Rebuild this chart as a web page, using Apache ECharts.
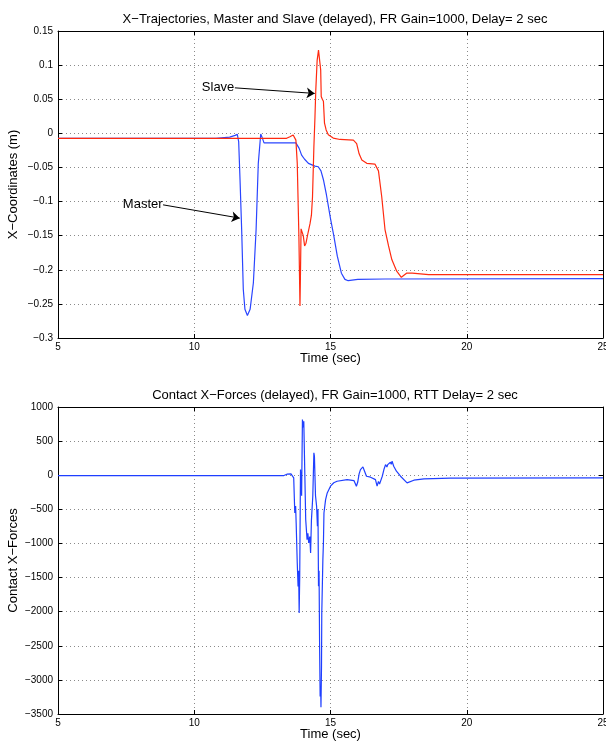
<!DOCTYPE html>
<html>
<head>
<meta charset="utf-8">
<script src="https://cdn.jsdelivr.net/npm/echarts@6/dist/echarts.min.js"></script>
<style>
html,body{margin:0;padding:0;background:#fff;}
#chart{width:606px;height:748px;}
</style>
</head>
<body>
<div id="chart"></div>
<script>
// ---------- Data ----------
const masterT = [5, 10.8, 11.3, 11.5, 11.58, 11.63, 11.68, 11.74, 11.80, 11.86, 11.95, 12.05, 12.17, 12.27, 12.35, 12.44, 12.50, 12.56, 13.73, 13.85, 13.94, 14.05, 14.19, 14.43, 14.55, 14.65, 14.74, 14.85, 15.0, 15.12, 15.25, 15.4, 15.53, 15.65, 16.0, 17.0, 25];
const masterX = [-0.0073, -0.0073, -0.0055, -0.003, -0.0015, -0.012, -0.068, -0.141, -0.229, -0.258, -0.267, -0.258, -0.219, -0.141, -0.044, -0.001, -0.007, -0.014, -0.014, -0.022, -0.032, -0.038, -0.044, -0.048, -0.049, -0.055, -0.068, -0.09, -0.125, -0.15, -0.18, -0.205, -0.214, -0.216, -0.214, -0.2135, -0.213];

const slaveT = [5, 13.39, 13.51, 13.63, 13.68, 13.73, 13.78, 13.84, 13.88, 13.90, 13.92, 13.97, 14.0, 14.05, 14.10, 14.18, 14.25, 14.30, 14.34, 14.39, 14.43, 14.46, 14.51, 14.56, 14.61, 14.64, 14.66, 14.70, 14.74, 14.78, 14.84, 14.92, 15.1, 15.35, 15.84, 15.96, 16.05, 16.15, 16.33, 16.63, 16.76, 16.88, 17.0, 17.13, 17.25, 17.43, 17.6, 17.79, 18.0, 18.6, 25];
const slaveX = [-0.0073, -0.0073, -0.005, -0.0025, -0.003, -0.01, -0.044, -0.15, -0.253, -0.2, -0.14, -0.141, -0.15, -0.165, -0.161, -0.145, -0.132, -0.12, -0.093, -0.02, 0.024, 0.063, 0.107, 0.122, 0.123, 0.093, 0.054, 0.05, 0.047, 0.015, 0.005, -0.002, -0.007, -0.009, -0.01, -0.015, -0.03, -0.039, -0.044, -0.045, -0.055, -0.093, -0.141, -0.165, -0.185, -0.202, -0.211, -0.205, -0.205, -0.207, -0.207];

const forceT = [5, 13.29, 13.4, 13.47, 13.55, 13.6, 13.65, 13.69, 13.72, 13.74, 13.78, 13.81, 13.83, 13.85, 13.87, 13.89, 13.90, 13.92, 13.94, 13.97, 14.0, 14.02, 14.06, 14.09, 14.14, 14.17, 14.20, 14.24, 14.27, 14.30, 14.35, 14.39, 14.41, 14.45, 14.49, 14.52, 14.54, 14.56, 14.58, 14.60, 14.62, 14.64, 14.65, 14.67, 14.68, 14.72, 14.74, 14.76, 14.82, 14.88, 15.0, 15.12, 15.24, 15.61, 15.86, 15.95, 16.0, 16.05, 16.10, 16.19, 16.25, 16.32, 16.47, 16.65, 16.71, 16.76, 16.8, 16.83, 16.9, 16.96, 17.02, 17.07, 17.1, 17.15, 17.2, 17.23, 17.26, 17.32, 17.42, 17.57, 17.81, 18.06, 18.43, 19.4, 25];
const forceF = [-5, -5, 15, 34, 20, -5, -39, -553, -450, -700, -1286, -1630, -1400, -2020, -1500, -400, 83, -100, -300, 817, 700, 792, -30, -650, -944, -850, -993, -900, -1140, -660, -308, 328, 280, -300, -455, -748, -500, -1628, -1400, -2509, -3243, -3100, -3400, -2800, -2020, -1237, -1000, -553, -357, -259, -161, -110, -88, -64, -78, -161, -100, 20, 83, 122, 59, -15, -29, -64, -161, -90, -130, -152, -15, 83, 156, 120, 156, 170, 191, 160, 205, 132, 59, -15, -112, -73, -54, -42, -40];

const xTicks = {min: 5, max: 25, interval: 5};
const yTopTicks = {min: -0.3, max: 0.15, interval: 0.05};
const yBotTicks = {min: -3500, max: 1000, interval: 500};

// annotation arrows: [label, startT, startV, endT, endV]
const annotations = [
  ['Slave', 11.49, 0.0667, 14.42, 0.0585],
  ['Master', 8.855, -0.1048, 11.67, -0.1243]
];

const titles = [
  'X\u2212Trajectories, Master and Slave (delayed), FR Gain=1000, Delay= 2 sec',
  'Contact X\u2212Forces (delayed), FR Gain=1000, RTT Delay= 2 sec'
];

// ---------- Chart ----------
const FONT = 'Liberation Sans';
const zip = (a, b) => a.map((v, i) => [v, b[i]]);
const fmt = v => {
  const r = Math.round(v * 1000) / 1000;
  return String(r).replace('-', '\u2212');
};

const chart = echarts.init(document.getElementById('chart'), null, {renderer: 'canvas'});

const splitLine = {show: true, lineStyle: {color: '#8a8a8a', width: 1, type: [1, 3]}};
const axisLine = {show: true, onZero: false, lineStyle: {color: '#000', width: 1}};
const tick = {show: true, inside: true, length: 4, lineStyle: {color: '#000'}};
const labelStyle = {color: '#000', fontSize: 10, fontFamily: FONT};

function xMain(gridIndex) {
  return Object.assign({
    type: 'value', gridIndex, position: 'bottom',
    name: 'Time (sec)', nameLocation: 'middle', nameGap: 14, nameMoveOverlap: false,
    nameTextStyle: {color: '#000', fontSize: 13, fontFamily: FONT},
    axisLine, axisTick: tick, splitLine,
    axisLabel: Object.assign({margin: 4, formatter: fmt}, labelStyle)
  }, xTicks);
}
function xTop(gridIndex) {
  return Object.assign({
    type: 'value', gridIndex, position: 'top',
    axisLine, axisTick: tick, splitLine: {show: false}, axisLabel: {show: false}
  }, xTicks);
}
function yMain(gridIndex, name, ticks) {
  return Object.assign({
    type: 'value', gridIndex, position: 'left', name, nameLocation: 'middle', nameGap: 38, nameMoveOverlap: false,
    nameTextStyle: {color: '#000', fontSize: 13, fontFamily: FONT},
    axisLine, axisTick: tick, splitLine,
    axisLabel: Object.assign({margin: 5, formatter: fmt}, labelStyle)
  }, ticks);
}
function yRight(gridIndex, ticks) {
  return Object.assign({
    type: 'value', gridIndex, position: 'right',
    axisLine, axisTick: tick, splitLine: {show: false}, axisLabel: {show: false}
  }, ticks);
}

const arrowLines = annotations.map(a => [{coord: [a[1], a[2]]}, {coord: [a[3], a[4]]}]);
const arrowTexts = annotations.map(a => ({
  coord: [a[1], a[2]], symbol: 'circle', symbolSize: 1,
  itemStyle: {color: 'rgba(0,0,0,0)'},
  label: {show: true, position: 'left', distance: 0, formatter: a[0], color: '#000', fontSize: 13, fontFamily: FONT}
}));

const gridBase = {left: 58, width: 545, height: 307, show: false, containLabel: false, outerBoundsMode: 'none'};

const option = {
  backgroundColor: '#fff',
  animation: false,
  title: [
    {text: titles[0], left: 330, top: 8, textAlign: 'center',
     textStyle: {fontSize: 13, fontWeight: 'normal', color: '#000', fontFamily: FONT}},
    {text: titles[1], left: 330, top: 384, textAlign: 'center',
     textStyle: {fontSize: 13, fontWeight: 'normal', color: '#000', fontFamily: FONT}}
  ],
  grid: [
    Object.assign({top: 31}, gridBase),
    Object.assign({top: 407}, gridBase)
  ],
  xAxis: [xMain(0), xTop(0), xMain(1), xTop(1)],
  yAxis: [
    yMain(0, 'X\u2212Coordinates (m)', yTopTicks), yRight(0, yTopTicks),
    yMain(1, 'Contact X\u2212Forces', yBotTicks), yRight(1, yBotTicks)
  ],
  series: [
    {
      name: 'Master', type: 'line', xAxisIndex: 0, yAxisIndex: 0,
      data: zip(masterT, masterX), showSymbol: false, symbol: 'none',
      lineStyle: {color: '#2a45ff', width: 1.2}, z: 3,
      markLine: {
        silent: true, symbol: ['none', 'arrow'], symbolSize: 8,
        lineStyle: {color: '#000', width: 1, type: 'solid'},
        label: {show: false}, data: arrowLines
      },
      markPoint: {silent: true, data: arrowTexts}
    },
    {
      name: 'Slave', type: 'line', xAxisIndex: 0, yAxisIndex: 0,
      data: zip(slaveT, slaveX), showSymbol: false, symbol: 'none',
      lineStyle: {color: '#ff2a10', width: 1.2}, z: 4
    },
    {
      name: 'Force', type: 'line', xAxisIndex: 2, yAxisIndex: 2,
      data: zip(forceT, forceF), showSymbol: false, symbol: 'none',
      lineStyle: {color: '#1f3fff', width: 1.2}, z: 3
    }
  ]
};
chart.setOption(option);
</script>
</body>
</html>
